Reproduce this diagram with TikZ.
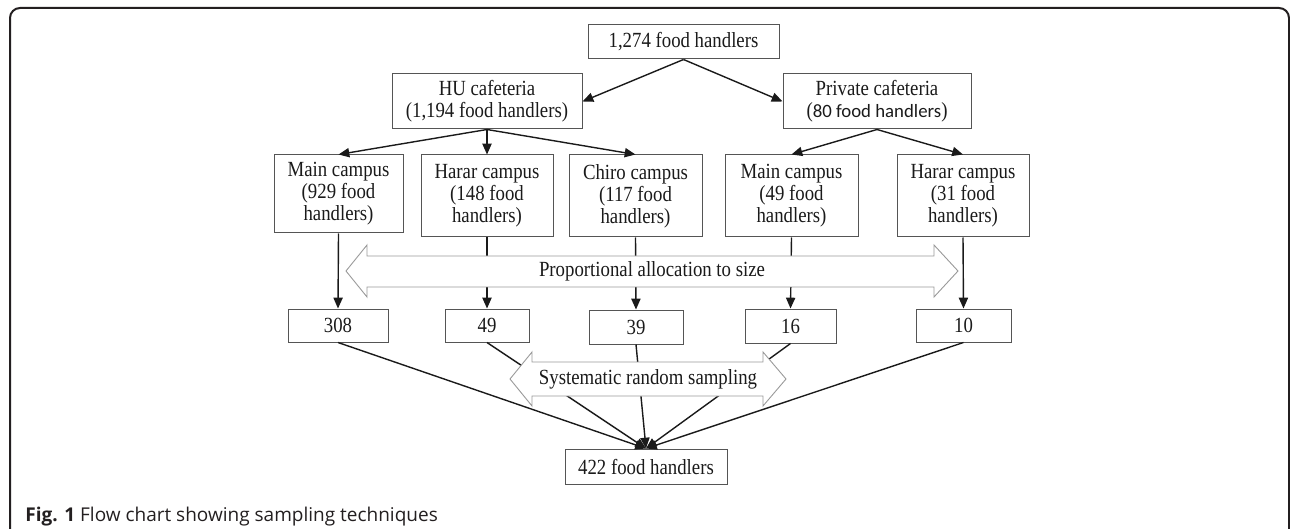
\documentclass[tikz,border=0pt]{standalone}
\usepackage{fontspec}
\setmainfont{Liberation Serif}[FakeStretch=0.87]
\newfontfamily\carlito{Carlito}
\newfontfamily\capfont{Open Sans}
\usetikzlibrary{arrows.meta}
\definecolor{boxgray}{HTML}{555555}
\definecolor{arrgray}{HTML}{9A9A9A}
\definecolor{ink}{HTML}{1A1A1A}
\definecolor{capink}{HTML}{231F20}
\tikzset{
  box/.style={draw=boxgray, line width=0.5pt, inner sep=0pt, align=center,
    font=\fontsize{10.8pt}{11pt}\selectfont, text=ink},
  conn/.style={draw=ink, line width=0.7pt, -{Triangle[length=5.4pt,width=4.6pt]}},
  hollow/.style={draw=arrgray, line width=0.45pt, fill=white},
  lbl/.style={inner sep=0pt, font=\fontsize{10.8pt}{11pt}\selectfont, text=ink}
}
\begin{document}
\begin{tikzpicture}[x=0.5pt,y=-0.5pt]
\useasboundingbox (0,0) rectangle (1290,529);
% outer frame
\draw[draw=capink, line width=1pt, rounded corners=5pt] (10,8) rectangle (1289,580);

% nodes
\node[box, minimum width=95.5pt, minimum height=17pt] (top) at (683.5,42) {1,274 food handlers};
\node[box, minimum width=95pt, minimum height=27.5pt] (hu) at (487,101.5) {HU cafeteria\\(1,194 food handlers)};
\node[box, minimum width=94pt, minimum height=27.5pt] (pv) at (877,101.5) {Private cafeteria\\({\carlito\fontsize{9.4pt}{11pt}\selectfont 80 food handlers})};

\node[box, minimum width=64.5pt, minimum height=39pt] (m1) at (338.5,194) {Main campus\\(929 food\\handlers)};
\node[box, minimum width=66pt, minimum height=41pt] (h1) at (487,196) {Harar campus\\(148 food\\handlers)};
\node[box, minimum width=66.5pt, minimum height=41pt] (c1) at (635.5,196) {Chiro campus\\(117 food\\handlers)};
\node[box, minimum width=66.5pt, minimum height=41pt] (m2) at (791.5,196) {Main campus\\(49 food\\handlers)};
\node[box, minimum width=66pt, minimum height=41pt] (h2) at (963,196) {Harar campus\\(31 food\\handlers)};

\node[box, minimum width=50pt, minimum height=16.5pt] (b1) at (338,325.5) {308};
\node[box, minimum width=42pt, minimum height=16.5pt] (b2) at (487,325.5) {49};
\node[box, minimum width=47pt, minimum height=17pt] (b3) at (636,327) {39};
\node[box, minimum width=45.5pt, minimum height=17pt] (b4) at (790.5,326) {16};
\node[box, minimum width=47.5pt, minimum height=16.5pt] (b5) at (963.5,325.5) {10};

\node[box, minimum width=81pt, minimum height=17.5pt] (fin) at (646,466.5) {422 food handlers};

% connectors
\draw[conn] (top.south) -- (hu.east);
\draw[conn] (top.south) -- (pv.west);
\draw[conn] (hu.south) -- (m1.north);
\draw[conn] (hu.south) -- (h1.north);
\draw[conn] (hu.south) -- (c1.north);
\draw[conn] (pv.south) -- (m2.north);
\draw[conn] (pv.south) -- (h2.north);

\draw[conn] (m1.south) -- (b1.north);
\draw[conn] (h1.south) -- (b2.north);
\draw[conn] (c1.south) -- (b3.north);
\draw[conn] (m2.south) -- (b4.north);
\draw[conn] (h2.south) -- (b5.north);

\draw[conn] (b1.south) -- (fin.north);
\draw[conn] (b2.south) -- (fin.north);
\draw[conn] (b3.south) -- (fin.north);
\draw[conn] (b4.south) -- (fin.north);
\draw[conn] (b5.south) -- (fin.north);

% hollow double arrows
\draw[hollow] (346,271) -- (367,245) -- (367,256) -- (934,256) -- (934,245) -- (958,271)
  -- (934,297) -- (934,287) -- (367,287) -- (367,297) -- cycle;
\node[lbl] (prop) at (652,271) {Proportional allocation to size};

\draw[hollow] (510,379) -- (532,352) -- (532,362) -- (763,362) -- (763,352) -- (786,379)
  -- (763,406) -- (763,396) -- (532,396) -- (532,406) -- cycle;
\node[lbl] (sys) at (648,379) {Systematic random sampling};

% caption
\node[anchor=base west, inner sep=0pt, text=capink, font=\capfont\fontsize{9.5pt}{10pt}\selectfont] (cap) at (25,521)
  {\textbf{Fig. 1} Flow chart showing sampling techniques};
\end{tikzpicture}
\end{document}
